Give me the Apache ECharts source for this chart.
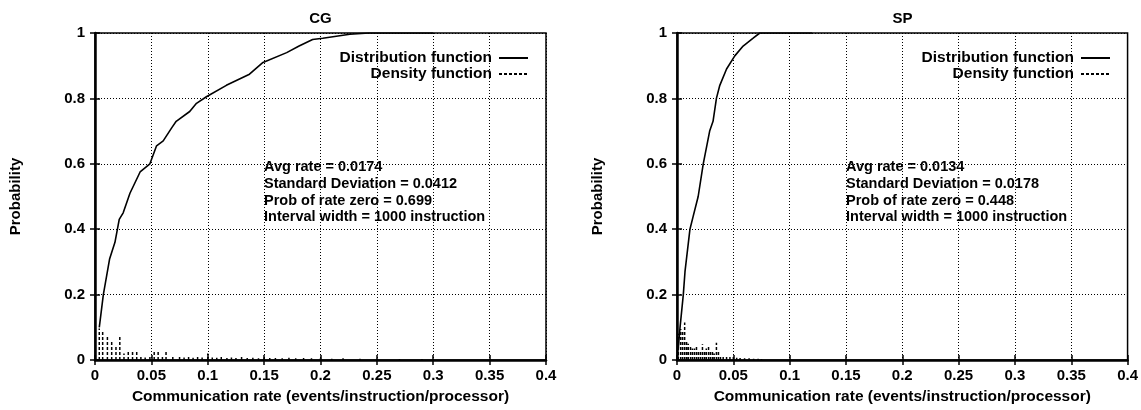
<!DOCTYPE html>
<html><head><meta charset="utf-8">
<script src="https://cdn.jsdelivr.net/npm/echarts@6/dist/echarts.min.js"></script>
<style>html,body{margin:0;padding:0;background:#fff}#c{width:1141px;height:410px}</style>
</head><body><div id="c"></div>
<script>
// ---- data ----
var titles = ['CG', 'SP'];
var xTicks = [0, 0.05, 0.1, 0.15, 0.2, 0.25, 0.3, 0.35, 0.4];
var yTicks = [0, 0.2, 0.4, 0.6, 0.8, 1];

var cgCdfX = [0.0038, 0.0074, 0.013, 0.0177, 0.0215, 0.025, 0.031, 0.040, 0.0487, 0.0546, 0.0605, 0.068, 0.072, 0.084, 0.090, 0.0988, 0.1165, 0.137, 0.149, 0.17, 0.181, 0.193, 0.202, 0.226, 0.243, 0.3];
var cgCdfY = [0.10, 0.20, 0.31, 0.36, 0.43, 0.45, 0.51, 0.575, 0.60, 0.655, 0.67, 0.71, 0.73, 0.76, 0.785, 0.805, 0.84, 0.874, 0.91, 0.94, 0.96, 0.98, 0.984, 0.996, 1.0, 1.0];

var cgDenX = [0.0038, 0.0068, 0.011, 0.0148, 0.0186, 0.022, 0.0257, 0.0295, 0.0333, 0.037, 0.0407, 0.0445, 0.0487, 0.0525, 0.056, 0.0598, 0.063, 0.069, 0.075, 0.079, 0.083, 0.087, 0.091, 0.095, 0.1, 0.104, 0.108, 0.112, 0.117, 0.121, 0.125, 0.13, 0.135, 0.14, 0.145, 0.15, 0.155, 0.16, 0.166, 0.172, 0.178, 0.185, 0.192, 0.2, 0.21, 0.22, 0.235, 0.25, 0.27, 0.29];
var cgDenY = [0.096, 0.09, 0.076, 0.06, 0.04, 0.073, 0.02, 0.03, 0.03, 0.025, 0.015, 0.008, 0.01, 0.025, 0.025, 0.012, 0.025, 0.01, 0.01, 0.008, 0.01, 0.007, 0.01, 0.008, 0.02, 0.008, 0.007, 0.01, 0.006, 0.008, 0.006, 0.009, 0.006, 0.007, 0.005, 0.008, 0.006, 0.006, 0.005, 0.007, 0.005, 0.006, 0.005, 0.005, 0.004, 0.005, 0.004, 0.004, 0.003, 0.003];

var spCdfX = [0.001, 0.0027, 0.0056, 0.0071, 0.0115, 0.0144, 0.0188, 0.0233, 0.029, 0.032, 0.035, 0.038, 0.044, 0.0513, 0.0587, 0.0676, 0.0735, 0.12];
var spCdfY = [0.03, 0.10, 0.20, 0.27, 0.40, 0.44, 0.50, 0.60, 0.70, 0.73, 0.80, 0.84, 0.89, 0.93, 0.96, 0.984, 1.0, 1.0];

var spDenX = [0.0012, 0.0033, 0.005, 0.0068, 0.0085, 0.010, 0.012, 0.0137, 0.0155, 0.0173, 0.019, 0.0208, 0.0226, 0.0244, 0.026, 0.028, 0.0297, 0.0315, 0.033, 0.035, 0.0368, 0.0386, 0.041, 0.044, 0.047, 0.050, 0.053, 0.056, 0.06, 0.064, 0.068, 0.072, 0.075];
var spDenY = [0.08, 0.095, 0.09, 0.115, 0.055, 0.05, 0.04, 0.035, 0.035, 0.04, 0.03, 0.03, 0.048, 0.03, 0.035, 0.045, 0.03, 0.025, 0.02, 0.053, 0.03, 0.015, 0.01, 0.015, 0.01, 0.012, 0.007, 0.006, 0.005, 0.005, 0.004, 0.004, 0.003];

var cgNotes = ['Avg rate = 0.0174', 'Standard Deviation = 0.0412', 'Prob of rate zero = 0.699', 'Interval width = 1000 instruction'];
var spNotes = ['Avg rate = 0.0134', 'Standard Deviation = 0.0178', 'Prob of rate zero = 0.448', 'Interval width = 1000 instruction'];

var seriesNames = ['Distribution function', 'Density function'];
var xName = 'Communication rate (events/instruction/processor)';
var yName = 'Probability';

// ---- build ----
var FONT = 'Liberation Sans';
function pairs(xs, ys) { return xs.map(function (x, i) { return [x, ys[i]]; }); }
function impulses(xs, ys) {
  var out = [];
  xs.forEach(function (x, i) { out.push([x, 0]); out.push([x, ys[i]]); out.push([x, '-']); });
  return out;
}
var grids = [
  { left: 95, top: 33, width: 451, height: 334 },
  { left: 677, top: 33, width: 451, height: 334 }
];
var xAxes = [], yAxes = [], series = [], titleArr = [], legends = [];
var labelStyle = { color: '#000', fontFamily: FONT, fontWeight: 'bold', fontSize: 15 };
grids.forEach(function (g, gi) {
  g.show = true; g.borderColor = '#000'; g.borderWidth = 1.5; g.containLabel = false;
  xAxes.push({
    gridIndex: gi, type: 'value', min: xTicks[0], max: xTicks[xTicks.length - 1], interval: xTicks[1] - xTicks[0],
    name: xName, nameLocation: 'middle', nameGap: 29,
    nameTextStyle: { color: '#000', fontFamily: FONT, fontWeight: 'bold', fontSize: 15.5 },
    axisLine: { show: true, onZero: false, lineStyle: { color: '#000', width: 2.5 } },
    axisTick: { show: true, inside: true, length: 5, lineStyle: { color: '#000', width: 1.5 } },
    axisLabel: Object.assign({ margin: 8, formatter: function (v) { return String(+v.toFixed(2)); } }, labelStyle),
    splitLine: { show: true, lineStyle: { color: '#000', width: 1, type: [1, 2] } }
  });
  xAxes.push({
    gridIndex: gi, type: 'value', position: 'top', min: xTicks[0], max: xTicks[xTicks.length - 1], interval: xTicks[1] - xTicks[0],
    axisLine: { show: false }, axisLabel: { show: false }, splitLine: { show: false },
    axisTick: { show: true, inside: true, length: 5, lineStyle: { color: '#000', width: 1.5 } }
  });
  yAxes.push({
    gridIndex: gi, type: 'value', min: yTicks[0], max: yTicks[yTicks.length - 1], interval: yTicks[1] - yTicks[0],
    name: yName, nameLocation: 'middle', nameGap: 72, nameRotate: 90,
    nameTextStyle: { color: '#000', fontFamily: FONT, fontWeight: 'bold', fontSize: 15 },
    axisLine: { show: true, onZero: false, lineStyle: { color: '#000', width: 2.5 } },
    axisTick: { show: true, inside: true, length: 5, lineStyle: { color: '#000', width: 1.5 } },
    axisLabel: Object.assign({ margin: 10, formatter: function (v) { return String(+v.toFixed(1)); } }, labelStyle),
    splitLine: { show: true, lineStyle: { color: '#000', width: 1, type: [1, 2] } }
  });
  yAxes.push({
    gridIndex: gi, type: 'value', position: 'right', min: yTicks[0], max: yTicks[yTicks.length - 1], interval: yTicks[1] - yTicks[0],
    axisLine: { show: false }, axisLabel: { show: false }, splitLine: { show: false },
    axisTick: { show: true, inside: true, length: 5, lineStyle: { color: '#000', width: 1.5 } }
  });
  var cdf = gi === 0 ? pairs(cgCdfX, cgCdfY) : pairs(spCdfX, spCdfY);
  var den = gi === 0 ? impulses(cgDenX, cgDenY) : impulses(spDenX, spDenY);
  series.push({
    name: seriesNames[0], type: 'line', xAxisIndex: gi * 2, yAxisIndex: gi * 2, data: cdf,
    showSymbol: false, symbol: 'none', animation: false, z: 5,
    lineStyle: { color: '#000', width: 1.6 }, itemStyle: { color: '#000' }
  });
  series.push({
    name: seriesNames[1], type: 'line', xAxisIndex: gi * 2, yAxisIndex: gi * 2, data: den,
    showSymbol: false, symbol: 'none', animation: false, connectNulls: false, z: 4,
    lineStyle: { color: '#000', width: 1.5, type: [3, 2] }, itemStyle: { color: '#000' }
  });
  titleArr.push({
    text: titles[gi], left: g.left + g.width / 2, top: 11, textAlign: 'center', padding: 0,
    textStyle: { color: '#000', fontFamily: FONT, fontWeight: 'bold', fontSize: 15 }
  });
  var notes = gi === 0 ? cgNotes : spNotes;
  titleArr.push({
    text: notes.join('\n'), left: g.left + 169, top: 159, padding: 0,
    textStyle: { color: '#000', fontFamily: FONT, fontWeight: 'bold', fontSize: 14.5, lineHeight: 16.7 }
  });
  legends.push({
    data: seriesNames, orient: 'vertical', align: 'right', right: 1141 - (g.left + g.width) + 17, top: 50,
    itemWidth: 29, itemHeight: 10, itemGap: 0, selectedMode: false, padding: 0,
    itemStyle: { color: 'rgba(0,0,0,0)', borderColor: 'rgba(0,0,0,0)', borderWidth: 0, opacity: 0 },
    textStyle: { color: '#000', fontFamily: FONT, fontWeight: 'bold', fontSize: 15.5, lineHeight: 16, padding: [0, 2, 0, 0] }
  });
});

var chart = echarts.init(document.getElementById('c'), null, { renderer: 'canvas' });
chart.setOption({
  animation: false,
  backgroundColor: '#fff',
  title: titleArr,
  legend: legends,
  grid: grids,
  xAxis: xAxes,
  yAxis: yAxes,
  series: series
});
</script>
</body></html>
